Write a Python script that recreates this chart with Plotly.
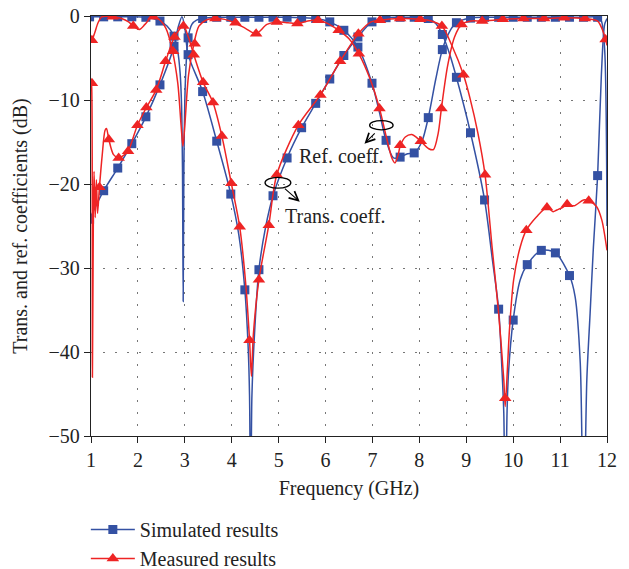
import plotly.graph_objects as go

# ---------------- data ----------------
# Simulated transmission coefficient (line)
sim_trans_f = [1.0, 1.27, 1.57, 1.87, 2.17, 2.47, 2.77, 2.86, 2.94, 3.0, 3.07, 3.38, 3.68, 3.98, 4.15, 4.28,
               4.35, 4.38, 4.405, 4.43, 4.49, 4.58, 4.72, 4.88, 5.18, 5.49, 5.79, 6.09, 6.39, 6.69, 6.99, 7.29,
               7.59, 7.89, 8.19, 8.35, 8.49, 8.65, 8.79, 9.09, 9.39, 9.55, 9.69, 9.76, 9.8, 9.83, 9.87, 9.9,
               10.0, 10.15, 10.3, 10.6, 10.9, 11.2, 11.32, 11.43, 11.5, 11.57, 11.64, 11.71, 11.8, 11.88,
               11.95, 12.0]
sim_trans_db = [-23.8, -20.8, -18.1, -15.2, -12.0, -8.2, -3.6, -1.3, -0.1, -1.4, -4.6, -9.0, -14.9, -21.2, -26.0,
                -32.6, -39.4, -45.3, -62.0, -45.3, -37.4, -30.2, -25.2, -21.4, -16.9, -13.3, -10.4, -7.5, -4.7,
                -2.5, -0.7, -0.2, -0.15, -0.15, -0.3, -0.9, -2.2, -4.6, -7.3, -13.9, -21.9, -28.7, -34.9, -42.0,
                -47.3, -62.0, -47.0, -42.5, -36.2, -31.4, -29.6, -27.9, -28.2, -30.9, -33.4, -41.3, -62.0, -43.3,
                -35.4, -27.5, -19.0, -7.0, -1.0, -0.3]

# Simulated reflection coefficient (line)
sim_ref_f = [1.0, 1.27, 1.57, 1.87, 2.17, 2.32, 2.47, 2.62, 2.77, 2.85, 2.9, 2.93, 2.95, 2.965, 2.98, 3.0,
             3.03, 3.07, 3.15, 3.25, 3.38, 3.68, 3.98, 4.28, 4.58, 4.88, 5.18, 5.49, 5.79, 6.09, 6.39, 6.69,
             6.99, 7.15, 7.29, 7.45, 7.59, 7.75, 7.89, 8.05, 8.19, 8.35, 8.49, 8.65, 8.79, 9.09, 9.39, 9.69,
             10.0, 10.3, 10.6, 10.9, 11.2, 11.5, 11.8, 11.88, 11.95, 12.0]
sim_ref_db = [-0.1, -0.1, -0.1, -0.1, -0.15, -0.3, -0.6, -1.2, -2.4, -4.2, -6.8, -10.5, -18.0, -34.0, -18.0,
              -10.0, -5.5, -2.6, -1.0, -0.5, -0.3, -0.15, -0.15, -0.15, -0.15, -0.15, -0.15, -0.2, -0.3, -0.7,
              -1.7, -3.7, -8.0, -11.5, -14.8, -16.9, -16.8, -16.4, -16.3, -15.0, -12.1, -7.5, -4.0, -1.8, -0.8,
              -0.25, -0.15, -0.15, -0.15, -0.15, -0.15, -0.15, -0.15, -0.15, -0.15, -0.6, -4.0, -25.0]

# Simulated markers
sim_trans_mk_f = [0.97, 1.27, 1.57, 1.87, 2.17, 2.47, 2.77, 3.07, 3.38, 3.68, 3.98, 4.28, 4.58, 4.88, 5.18,
                  5.49, 5.79, 6.09, 6.39, 6.69, 6.99, 7.29, 7.59, 7.89, 8.19, 8.49, 8.79, 9.09, 9.39, 9.69,
                  10.0, 10.3, 10.6, 10.9, 11.2, 11.8]
sim_trans_mk_db = [-24.2, -20.8, -18.1, -15.2, -12.0, -8.2, -3.6, -4.6, -9.0, -14.9, -21.2, -32.6, -30.2, -21.4,
                   -16.9, -13.3, -10.4, -7.5, -4.7, -2.5, -0.7, -0.2, -0.15, -0.15, -0.3, -2.2, -7.3, -13.9,
                   -21.9, -34.9, -36.2, -29.6, -27.9, -28.2, -30.9, -19.0]
sim_ref_mk_f = [0.97, 1.27, 1.57, 1.87, 2.17, 2.47, 2.77, 3.07, 3.38, 3.68, 3.98, 4.28, 4.58, 4.88, 5.18,
                5.49, 5.79, 6.09, 6.39, 6.69, 6.99, 7.29, 7.59, 7.89, 8.19, 8.49, 8.79, 9.09, 9.39, 9.69,
                10.0, 10.3, 10.6, 10.9, 11.2, 11.5, 11.8]
sim_ref_mk_db = [-0.1, -0.1, -0.1, -0.1, -0.15, -0.6, -2.4, -2.6, -0.3, -0.15, -0.15, -0.15, -0.15, -0.15,
                 -0.15, -0.2, -0.3, -0.7, -1.7, -3.7, -8.0, -14.8, -16.8, -16.3, -12.1, -4.0, -0.8, -0.25,
                 -0.15, -0.15, -0.15, -0.15, -0.15, -0.15, -0.15, -0.15, -0.15]

# Measured transmission coefficient (line)
meas_trans_f = [1.0, 1.015, 1.03, 1.05, 1.065, 1.09, 1.115, 1.14, 1.18, 1.24, 1.3, 1.33, 1.38, 1.48, 1.59,
                1.69, 1.79, 1.99, 2.18, 2.39, 2.59, 2.78, 2.97, 3.07, 3.19, 3.39, 3.6, 3.79, 3.99, 4.17, 4.3,
                4.38, 4.42, 4.46, 4.58, 4.79, 4.96, 5.42, 5.89, 6.31, 6.7, 6.97, 7.16, 7.59, 8.02, 8.25, 8.48,
                8.7, 8.94, 9.08, 9.25, 9.4, 9.55, 9.69, 9.8, 9.83, 9.88, 9.92, 10.01, 10.15, 10.28, 10.5,
                10.72, 10.85, 10.93, 11.05, 11.15, 11.3, 11.5, 11.61, 11.78, 11.89, 12.0]
meas_trans_db = [-7.5, -8.5, -43.0, -24.0, -18.5, -24.0, -19.5, -23.5, -20.4, -16.5, -13.6, -13.4, -14.7, -16.5,
                 -16.9, -16.6, -16.1, -13.0, -10.9, -8.8, -5.4, -2.5, -1.2, -2.4, -4.6, -7.9, -10.3, -14.3,
                 -19.9, -25.1, -32.0, -38.6, -42.9, -38.0, -31.4, -24.9, -18.9, -13.0, -9.4, -5.4, -2.1, -0.7,
                 -0.5, -0.3, -0.4, -0.6, -1.2, -3.6, -7.0, -9.8, -14.0, -18.9, -27.5, -35.4, -43.3, -46.5,
                 -41.7, -37.4, -31.4, -27.5, -25.5, -23.9, -22.8, -23.3, -23.1, -22.8, -22.4, -22.6, -21.9,
                 -22.0, -22.7, -24.3, -27.9]

# Measured reflection coefficient (line)
meas_ref_f = [1.0, 1.02, 1.08, 1.15, 1.23, 1.46, 1.65, 1.8, 1.9, 2.03, 2.15, 2.3, 2.45, 2.6, 2.73, 2.85, 2.92,
              2.96, 3.0, 3.08, 3.19, 3.3, 3.45, 3.65, 3.85, 4.06, 4.3, 4.52, 4.75, 4.96, 5.2, 5.4, 5.62, 5.84,
              6.05, 6.28, 6.5, 6.71, 6.95, 7.15, 7.3, 7.42, 7.48, 7.55, 7.59, 7.7, 7.84, 7.95, 8.03, 8.2, 8.3,
              8.4, 8.47, 8.6, 8.75, 8.9, 9.1, 9.34, 9.78, 10.22, 10.66, 11.09, 11.53, 11.8, 11.9, 11.97, 12.0]
meas_ref_db = [-3.0, -2.9, -2.0, -0.8, -0.1, -0.1, -0.3, -0.7, -1.2, -1.6, -1.0, -0.1, -0.4, -1.5, -4.0, -8.0,
               -13.0, -15.5, -13.0, -7.0, -3.4, -1.2, -0.5, -0.3, -0.4, -0.8, -1.5, -2.1, -1.0, -0.7, -0.8,
               -0.9, -0.6, -0.5, -0.9, -1.7, -2.7, -4.5, -7.5, -11.0, -14.5, -17.0, -17.5, -16.5, -15.5,
               -14.4, -14.1, -14.5, -14.9, -15.8, -15.9, -14.0, -11.0, -6.0, -2.5, -1.0, -0.6, -0.6, -0.4,
               -0.3, -0.3, -0.2, -0.3, -0.6, -1.6, -2.8, -3.5]

# Measured markers
meas_trans_mk_f = [1.02, 1.18, 1.38, 1.59, 1.79, 1.99, 2.18, 2.39, 2.59, 2.78, 2.97, 3.19, 3.39, 3.6, 3.79,
                   3.99, 4.17, 4.38, 4.58, 4.79, 4.96, 5.42, 5.89, 6.31, 6.7, 7.16, 7.59, 8.02, 8.48, 8.94,
                   9.4, 9.83, 10.28, 10.72, 11.15, 11.61]
meas_trans_mk_db = [-8.0, -20.4, -14.7, -16.9, -16.1, -13.0, -10.9, -8.8, -5.4, -2.5, -1.2, -4.6, -7.9, -10.3,
                    -14.3, -19.9, -25.1, -38.6, -31.4, -24.9, -18.9, -13.0, -9.4, -5.4, -2.1, -0.5, -0.3,
                    -0.4, -1.2, -7.0, -18.9, -45.5, -25.5, -22.8, -22.4, -22.0]
meas_ref_mk_f = [1.02, 1.46, 1.9, 2.33, 2.75, 3.21, 3.65, 4.08, 4.52, 4.96, 5.4, 5.84, 6.28, 6.71, 7.15, 7.59,
                 8.03, 8.47, 8.9, 9.34, 9.78, 10.22, 10.66, 11.09, 11.53, 11.97]
meas_ref_mk_db = [-2.9, -0.1, -1.2, -0.1, -4.2, -3.3, -0.3, -0.8, -2.1, -0.7, -0.9, -0.5, -1.7, -4.5, -11.0,
                  -15.4, -14.9, -11.0, -1.0, -0.6, -0.4, -0.3, -0.3, -0.2, -0.3, -2.8]

x_ticks = [1, 2, 3, 4, 5, 6, 7, 8, 9, 10, 11, 12]
y_ticks = [0, -10, -20, -30, -40, -50]

# ---------------- styling ----------------
BLUE = "#3451A3"
RED = "#EE2424"
FONT = "Liberation Serif"
FS = 20

fig = go.Figure()

def add_line(f, db, color):
    fig.add_trace(go.Scatter(x=f, y=db, mode="lines", showlegend=False, hoverinfo="skip",
                             line=dict(color=color, width=1.5, shape="spline", smoothing=0.8)))

def add_markers(f, db, color, symbol, size):
    fig.add_trace(go.Scatter(x=f, y=db, mode="markers", showlegend=False, hoverinfo="skip",
                             marker=dict(color=color, symbol=symbol, size=size, line=dict(width=0))))

add_line(sim_ref_f, sim_ref_db, BLUE)
add_line(sim_trans_f, sim_trans_db, BLUE)
add_markers(sim_ref_mk_f, sim_ref_mk_db, BLUE, "square", 9)
add_markers(sim_trans_mk_f, sim_trans_mk_db, BLUE, "square", 9)
add_line(meas_ref_f, meas_ref_db, RED)
add_line(meas_trans_f, meas_trans_db, RED)
add_markers(meas_ref_mk_f, meas_ref_mk_db, RED, "triangle-up", 11)
add_markers(meas_trans_mk_f, meas_trans_mk_db, RED, "triangle-up", 11)

# legend entries
fig.add_trace(go.Scatter(x=[None], y=[None], mode="lines+markers", name="Simulated results",
                         line=dict(color=BLUE, width=1.5), marker=dict(color=BLUE, symbol="square", size=9)))
fig.add_trace(go.Scatter(x=[None], y=[None], mode="lines+markers", name="Measured results",
                         line=dict(color=RED, width=1.5), marker=dict(color=RED, symbol="triangle-up", size=11)))

# ellipses
fig.add_shape(type="circle", xref="x", yref="y", x0=6.94, x1=7.44, y0=-13.55, y1=-12.45,
              line=dict(color="black", width=1.3))
fig.add_shape(type="circle", xref="x", yref="y", x0=4.71, x1=5.26, y0=-20.5, y1=-19.2,
              line=dict(color="black", width=1.3))

# arrows
fig.add_annotation(x=6.83, y=-15.2, ax=7.08, ay=-13.8, xref="x", yref="y", axref="x", ayref="y",
                   text="", showarrow=True, arrowhead=5, arrowsize=1.6, arrowwidth=1.1, arrowcolor="black")
fig.add_annotation(x=5.45, y=-22.1, ax=5.1, ay=-20.4, xref="x", yref="y", axref="x", ayref="y",
                   text="", showarrow=True, arrowhead=5, arrowsize=1.6, arrowwidth=1.1, arrowcolor="black")

# labels
fig.add_annotation(x=5.40, y=-16.7, xref="x", yref="y", text="Ref. coeff.", showarrow=False,
                   xanchor="left", yanchor="middle", font=dict(family=FONT, size=FS, color="#222"))
fig.add_annotation(x=5.10, y=-23.8, xref="x", yref="y", text="Trans. coeff.", showarrow=False,
                   xanchor="left", yanchor="middle", font=dict(family=FONT, size=FS, color="#222"))

axis_common = dict(showline=True, linecolor="#222", linewidth=1.3, mirror=True, ticks="outside",
                   ticklen=6, tickwidth=1.2, tickcolor="#222", showgrid=True, gridcolor="#777",
                   griddash="2px,10px", gridwidth=1.2, zeroline=False,
                   tickfont=dict(family=FONT, size=FS, color="#222"))

fig.update_layout(
    width=629, height=569,
    margin=dict(l=91, r=22, t=16, b=133, autoexpand=False),
    paper_bgcolor="white", plot_bgcolor="white",
    font=dict(family=FONT, size=FS, color="#222"),
    xaxis=dict(range=[1, 12], tickvals=x_ticks, title=dict(text="Frequency (GHz)", standoff=10,
               font=dict(family=FONT, size=FS)), **axis_common),
    yaxis=dict(range=[-50, 0], tickvals=y_ticks, title=dict(text="Trans. and ref. coefficients (dB)",
               standoff=15, font=dict(family=FONT, size=FS)), **axis_common),
    legend=dict(x=-0.01, y=-0.176, xanchor="left", yanchor="top", orientation="v",
                font=dict(family=FONT, size=FS, color="#222"), bgcolor="rgba(0,0,0,0)",
                tracegroupgap=0, itemwidth=44),
    showlegend=True,
)

fig.write_html("out.html")
